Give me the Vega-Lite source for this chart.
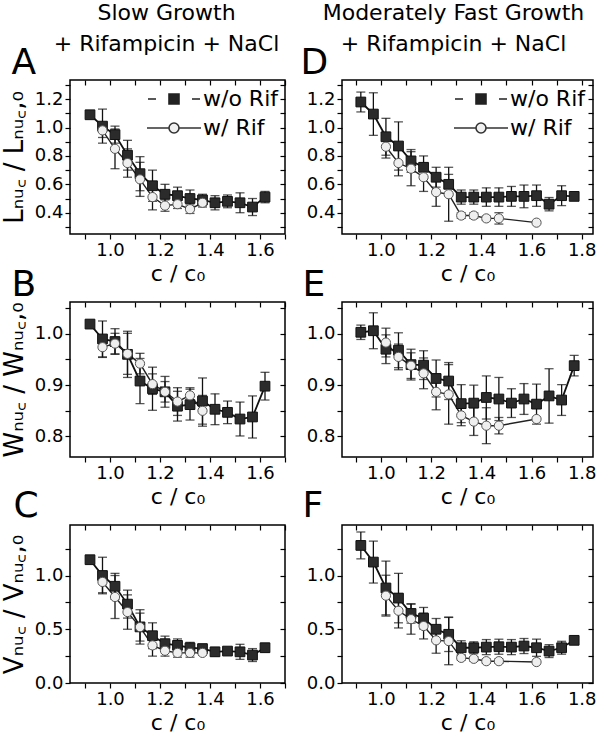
{
"$schema": "https://vega.github.io/schema/vega-lite/v6.json",
"padding": {"left": 0, "top": 1, "right": 2, "bottom": 0},
"background": "white",
"config": {
  "font": "DejaVu Sans",
  "view": {"stroke": "#000", "strokeWidth": 1.5},
  "axis": {"domain": false, "grid": false, "tickColor": "#000", "tickWidth": 1.2, "tickSize": 5, "labelFont": "DejaVu Sans", "labelFontSize": 18, "labelColor": "#000", "labelPadding": 2, "titleFont": "DejaVu Sans", "titleFontWeight": "normal", "titleColor": "#000", "labelFlush": false, "labelOverlap": false},
  "title": {"font": "DejaVu Sans", "color": "#000", "fontWeight": "normal"}
},
"datasets": {"d": [
{"p":"A","s":"w/o Rif","c":0.92,"v":1.09,"e":0},
{"p":"A","s":"w/o Rif","c":0.97,"v":1.01,"e":0.12},
{"p":"A","s":"w/o Rif","c":1.02,"v":0.95,"e":0.06},
{"p":"A","s":"w/o Rif","c":1.07,"v":0.805,"e":0.105},
{"p":"A","s":"w/o Rif","c":1.12,"v":0.675,"e":0.12},
{"p":"A","s":"w/o Rif","c":1.17,"v":0.59,"e":0.11},
{"p":"A","s":"w/o Rif","c":1.22,"v":0.53,"e":0.07},
{"p":"A","s":"w/o Rif","c":1.27,"v":0.52,"e":0.06},
{"p":"A","s":"w/o Rif","c":1.32,"v":0.5,"e":0.06},
{"p":"A","s":"w/o Rif","c":1.37,"v":0.49,"e":0.04},
{"p":"A","s":"w/o Rif","c":1.42,"v":0.47,"e":0.05},
{"p":"A","s":"w/o Rif","c":1.47,"v":0.48,"e":0.045},
{"p":"A","s":"w/o Rif","c":1.52,"v":0.47,"e":0.07},
{"p":"A","s":"w/o Rif","c":1.57,"v":0.44,"e":0.06},
{"p":"A","s":"w/o Rif","c":1.62,"v":0.51,"e":0.04},
{"p":"A","s":"w/ Rif","c":0.97,"v":0.98,"e":0.05},
{"p":"A","s":"w/ Rif","c":1.02,"v":0.85,"e":0.14},
{"p":"A","s":"w/ Rif","c":1.07,"v":0.75,"e":0.1},
{"p":"A","s":"w/ Rif","c":1.12,"v":0.635,"e":0.12},
{"p":"A","s":"w/ Rif","c":1.17,"v":0.51,"e":0.09},
{"p":"A","s":"w/ Rif","c":1.22,"v":0.45,"e":0.04},
{"p":"A","s":"w/ Rif","c":1.27,"v":0.46,"e":0.03},
{"p":"A","s":"w/ Rif","c":1.32,"v":0.425,"e":0.03},
{"p":"A","s":"w/ Rif","c":1.37,"v":0.47,"e":0.03},
{"p":"D","s":"w/o Rif","c":0.92,"v":1.18,"e":0.07},
{"p":"D","s":"w/o Rif","c":0.97,"v":1.095,"e":0.15},
{"p":"D","s":"w/o Rif","c":1.02,"v":0.935,"e":0.13},
{"p":"D","s":"w/o Rif","c":1.07,"v":0.87,"e":0.17},
{"p":"D","s":"w/o Rif","c":1.12,"v":0.765,"e":0.08},
{"p":"D","s":"w/o Rif","c":1.17,"v":0.72,"e":0.08},
{"p":"D","s":"w/o Rif","c":1.22,"v":0.65,"e":0.07},
{"p":"D","s":"w/o Rif","c":1.27,"v":0.6,"e":0.07},
{"p":"D","s":"w/o Rif","c":1.32,"v":0.51,"e":0.05},
{"p":"D","s":"w/o Rif","c":1.37,"v":0.51,"e":0.05},
{"p":"D","s":"w/o Rif","c":1.42,"v":0.51,"e":0.065},
{"p":"D","s":"w/o Rif","c":1.47,"v":0.51,"e":0.065},
{"p":"D","s":"w/o Rif","c":1.52,"v":0.515,"e":0.07},
{"p":"D","s":"w/o Rif","c":1.57,"v":0.515,"e":0.08},
{"p":"D","s":"w/o Rif","c":1.62,"v":0.52,"e":0.075},
{"p":"D","s":"w/o Rif","c":1.67,"v":0.46,"e":0.047},
{"p":"D","s":"w/o Rif","c":1.72,"v":0.52,"e":0.07},
{"p":"D","s":"w/o Rif","c":1.77,"v":0.515,"e":0},
{"p":"D","s":"w/ Rif","c":1.02,"v":0.865,"e":0.08},
{"p":"D","s":"w/ Rif","c":1.07,"v":0.75,"e":0.09},
{"p":"D","s":"w/ Rif","c":1.12,"v":0.71,"e":0.12},
{"p":"D","s":"w/ Rif","c":1.17,"v":0.65,"e":0.1},
{"p":"D","s":"w/ Rif","c":1.22,"v":0.545,"e":0.1},
{"p":"D","s":"w/ Rif","c":1.27,"v":0.53,"e":0.19},
{"p":"D","s":"w/ Rif","c":1.32,"v":0.38,"e":0.02},
{"p":"D","s":"w/ Rif","c":1.37,"v":0.38,"e":0.02},
{"p":"D","s":"w/ Rif","c":1.42,"v":0.36,"e":0.015},
{"p":"D","s":"w/ Rif","c":1.47,"v":0.36,"e":0.04},
{"p":"D","s":"w/ Rif","c":1.62,"v":0.33,"e":0},
{"p":"B","s":"w/o Rif","c":0.92,"v":1.019,"e":0},
{"p":"B","s":"w/o Rif","c":0.97,"v":0.99,"e":0.035},
{"p":"B","s":"w/o Rif","c":1.02,"v":0.985,"e":0.025},
{"p":"B","s":"w/o Rif","c":1.07,"v":0.96,"e":0.045},
{"p":"B","s":"w/o Rif","c":1.12,"v":0.908,"e":0.044},
{"p":"B","s":"w/o Rif","c":1.17,"v":0.893,"e":0.042},
{"p":"B","s":"w/o Rif","c":1.22,"v":0.887,"e":0.03},
{"p":"B","s":"w/o Rif","c":1.27,"v":0.859,"e":0.029},
{"p":"B","s":"w/o Rif","c":1.32,"v":0.862,"e":0.03},
{"p":"B","s":"w/o Rif","c":1.37,"v":0.869,"e":0.045},
{"p":"B","s":"w/o Rif","c":1.42,"v":0.853,"e":0.03},
{"p":"B","s":"w/o Rif","c":1.47,"v":0.847,"e":0.022},
{"p":"B","s":"w/o Rif","c":1.52,"v":0.834,"e":0.033},
{"p":"B","s":"w/o Rif","c":1.57,"v":0.838,"e":0.041},
{"p":"B","s":"w/o Rif","c":1.62,"v":0.898,"e":0.027},
{"p":"B","s":"w/ Rif","c":0.97,"v":0.974,"e":0.02},
{"p":"B","s":"w/ Rif","c":1.02,"v":0.981,"e":0.02},
{"p":"B","s":"w/ Rif","c":1.07,"v":0.961,"e":0.04},
{"p":"B","s":"w/ Rif","c":1.12,"v":0.942,"e":0.02},
{"p":"B","s":"w/ Rif","c":1.17,"v":0.902,"e":0.02},
{"p":"B","s":"w/ Rif","c":1.22,"v":0.887,"e":0.02},
{"p":"B","s":"w/ Rif","c":1.27,"v":0.868,"e":0.027},
{"p":"B","s":"w/ Rif","c":1.32,"v":0.88,"e":0.015},
{"p":"B","s":"w/ Rif","c":1.37,"v":0.85,"e":0.03},
{"p":"E","s":"w/o Rif","c":0.92,"v":1.003,"e":0.014},
{"p":"E","s":"w/o Rif","c":0.97,"v":1.006,"e":0.035},
{"p":"E","s":"w/o Rif","c":1.02,"v":0.97,"e":0.028},
{"p":"E","s":"w/o Rif","c":1.07,"v":0.968,"e":0.034},
{"p":"E","s":"w/o Rif","c":1.12,"v":0.94,"e":0.03},
{"p":"E","s":"w/o Rif","c":1.17,"v":0.939,"e":0.028},
{"p":"E","s":"w/o Rif","c":1.22,"v":0.913,"e":0.036},
{"p":"E","s":"w/o Rif","c":1.27,"v":0.908,"e":0.036},
{"p":"E","s":"w/o Rif","c":1.32,"v":0.864,"e":0.037},
{"p":"E","s":"w/o Rif","c":1.37,"v":0.865,"e":0.035},
{"p":"E","s":"w/o Rif","c":1.42,"v":0.876,"e":0.042},
{"p":"E","s":"w/o Rif","c":1.47,"v":0.873,"e":0.042},
{"p":"E","s":"w/o Rif","c":1.52,"v":0.865,"e":0.028},
{"p":"E","s":"w/o Rif","c":1.57,"v":0.873,"e":0.03},
{"p":"E","s":"w/o Rif","c":1.62,"v":0.863,"e":0.039},
{"p":"E","s":"w/o Rif","c":1.67,"v":0.879,"e":0.053},
{"p":"E","s":"w/o Rif","c":1.72,"v":0.871,"e":0.03},
{"p":"E","s":"w/o Rif","c":1.77,"v":0.938,"e":0.02},
{"p":"E","s":"w/ Rif","c":1.02,"v":0.983,"e":0.028},
{"p":"E","s":"w/ Rif","c":1.07,"v":0.955,"e":0.025},
{"p":"E","s":"w/ Rif","c":1.12,"v":0.938,"e":0.025},
{"p":"E","s":"w/ Rif","c":1.17,"v":0.923,"e":0.03},
{"p":"E","s":"w/ Rif","c":1.22,"v":0.887,"e":0.035},
{"p":"E","s":"w/ Rif","c":1.27,"v":0.882,"e":0.058},
{"p":"E","s":"w/ Rif","c":1.32,"v":0.841,"e":0.02},
{"p":"E","s":"w/ Rif","c":1.37,"v":0.829,"e":0.027},
{"p":"E","s":"w/ Rif","c":1.42,"v":0.821,"e":0.035},
{"p":"E","s":"w/ Rif","c":1.47,"v":0.821,"e":0.016},
{"p":"E","s":"w/ Rif","c":1.62,"v":0.834,"e":0},
{"p":"C","s":"w/o Rif","c":0.92,"v":1.147,"e":0},
{"p":"C","s":"w/o Rif","c":0.97,"v":1.0,"e":0.17},
{"p":"C","s":"w/o Rif","c":1.02,"v":0.9,"e":0.12},
{"p":"C","s":"w/o Rif","c":1.07,"v":0.734,"e":0.13},
{"p":"C","s":"w/o Rif","c":1.12,"v":0.522,"e":0.16},
{"p":"C","s":"w/o Rif","c":1.17,"v":0.44,"e":0.12},
{"p":"C","s":"w/o Rif","c":1.22,"v":0.366,"e":0.07},
{"p":"C","s":"w/o Rif","c":1.27,"v":0.35,"e":0.06},
{"p":"C","s":"w/o Rif","c":1.32,"v":0.328,"e":0.05},
{"p":"C","s":"w/o Rif","c":1.37,"v":0.32,"e":0.04},
{"p":"C","s":"w/o Rif","c":1.42,"v":0.29,"e":0.04},
{"p":"C","s":"w/o Rif","c":1.47,"v":0.297,"e":0.03},
{"p":"C","s":"w/o Rif","c":1.52,"v":0.29,"e":0.07},
{"p":"C","s":"w/o Rif","c":1.57,"v":0.26,"e":0.06},
{"p":"C","s":"w/o Rif","c":1.62,"v":0.328,"e":0.04},
{"p":"C","s":"w/ Rif","c":0.97,"v":0.94,"e":0.1},
{"p":"C","s":"w/ Rif","c":1.02,"v":0.8,"e":0.2},
{"p":"C","s":"w/ Rif","c":1.07,"v":0.66,"e":0.16},
{"p":"C","s":"w/ Rif","c":1.12,"v":0.52,"e":0.13},
{"p":"C","s":"w/ Rif","c":1.17,"v":0.35,"e":0.1},
{"p":"C","s":"w/ Rif","c":1.22,"v":0.3,"e":0.05},
{"p":"C","s":"w/ Rif","c":1.27,"v":0.28,"e":0.04},
{"p":"C","s":"w/ Rif","c":1.32,"v":0.28,"e":0.04},
{"p":"C","s":"w/ Rif","c":1.37,"v":0.28,"e":0.02},
{"p":"F","s":"w/o Rif","c":0.92,"v":1.28,"e":0.125},
{"p":"F","s":"w/o Rif","c":0.97,"v":1.125,"e":0.195},
{"p":"F","s":"w/o Rif","c":1.02,"v":0.884,"e":0.25},
{"p":"F","s":"w/o Rif","c":1.07,"v":0.79,"e":0.23},
{"p":"F","s":"w/o Rif","c":1.12,"v":0.647,"e":0.09},
{"p":"F","s":"w/o Rif","c":1.17,"v":0.603,"e":0.1},
{"p":"F","s":"w/o Rif","c":1.22,"v":0.5,"e":0.1},
{"p":"F","s":"w/o Rif","c":1.27,"v":0.453,"e":0.16},
{"p":"F","s":"w/o Rif","c":1.32,"v":0.328,"e":0.065},
{"p":"F","s":"w/o Rif","c":1.37,"v":0.328,"e":0.055},
{"p":"F","s":"w/o Rif","c":1.42,"v":0.334,"e":0.07},
{"p":"F","s":"w/o Rif","c":1.47,"v":0.3375,"e":0.07},
{"p":"F","s":"w/o Rif","c":1.52,"v":0.334,"e":0.07},
{"p":"F","s":"w/o Rif","c":1.57,"v":0.344,"e":0.07},
{"p":"F","s":"w/o Rif","c":1.62,"v":0.328,"e":0.08},
{"p":"F","s":"w/o Rif","c":1.67,"v":0.297,"e":0.06},
{"p":"F","s":"w/o Rif","c":1.72,"v":0.328,"e":0.06},
{"p":"F","s":"w/o Rif","c":1.77,"v":0.397,"e":0.02},
{"p":"F","s":"w/ Rif","c":1.02,"v":0.8125,"e":0.19},
{"p":"F","s":"w/ Rif","c":1.07,"v":0.672,"e":0.16},
{"p":"F","s":"w/ Rif","c":1.12,"v":0.594,"e":0.14},
{"p":"F","s":"w/ Rif","c":1.17,"v":0.53,"e":0.12},
{"p":"F","s":"w/ Rif","c":1.22,"v":0.397,"e":0.12},
{"p":"F","s":"w/ Rif","c":1.27,"v":0.39,"e":0.22},
{"p":"F","s":"w/ Rif","c":1.32,"v":0.234,"e":0.02},
{"p":"F","s":"w/ Rif","c":1.37,"v":0.225,"e":0.02},
{"p":"F","s":"w/ Rif","c":1.42,"v":0.203,"e":0.02},
{"p":"F","s":"w/ Rif","c":1.47,"v":0.203,"e":0.02},
{"p":"F","s":"w/ Rif","c":1.62,"v":0.195,"e":0}
]},
"bounds": "flush",
"columns": 2,
"spacing": {"row": 68, "column": 57},
"resolve": {"scale": {"shape": "independent", "fill": "independent", "stroke": "independent"}, "legend": {"shape": "independent", "fill": "independent", "stroke": "independent"}},
"concat": [
  {
   "width": 215, "height": 154,
   "title": {"text": ["Slow Growth", "+ Rifampicin + NaCl"], "fontSize": 22, "lineHeight": 31, "anchor": "middle", "frame": "group", "dx": -11, "offset": -12},
   "data": {"name": "d"},
   "transform": [{"filter": "datum.p == 'A'"}],
   "resolve": {"axis": {"x": "independent", "y": "independent"}},
   "layer": [
    {"transform": [{"filter": "datum.e > 0"}], "mark": {"type": "errorbar", "ticks": {"size": 9, "thickness": 1.3, "color": "#111"}, "rule": {"strokeWidth": 1.3, "color": "#111"}},
     "encoding": {"x": {"field": "c", "type": "quantitative", "scale": {"domain": [0.84, 1.70], "nice": false, "zero": false}, "axis": null},
                  "y": {"field": "v", "type": "quantitative", "scale": {"domain": [0.25, 1.335], "nice": false, "zero": false}, "axis": null},
                  "yError": {"field": "e"}}},
    {"transform": [{"filter": "datum.s == 'w/o Rif'"}], "mark": {"type": "line", "color": "#111", "strokeWidth": 1.8},
     "encoding": {"x": {"field": "c", "type": "quantitative", "axis": {"orient": "top", "labels": false, "tickSize": -5, "title": "A", "titleFontSize": 36, "titleX": -59, "titleY": -7, "titleAlign": "left", "titleBaseline": "alphabetic", "values": [0.9,1.0,1.1,1.2,1.3,1.4,1.5,1.6,1.7]}},
                  "y": {"field": "v", "type": "quantitative", "axis": {"orient": "right", "labels": false, "tickSize": -5, "title": null, "values": [0.3,0.4,0.5,0.6,0.7,0.8,0.9,1.0,1.1,1.2,1.3]}}}},
    {"transform": [{"filter": "datum.s == 'w/ Rif'"}], "mark": {"type": "line", "color": "#222", "strokeWidth": 1.4},
     "encoding": {"x": {"field": "c", "type": "quantitative", "axis": null}, "y": {"field": "v", "type": "quantitative", "axis": null}}},
    {"transform": [{"filter": "datum.s == 'w/o Rif'"}], "mark": {"type": "square", "size": 95, "fill": "#2b2b2b", "stroke": "#111", "strokeWidth": 1, "opacity": 1},
     "encoding": {"x": {"field": "c", "type": "quantitative", "axis": {"orient": "bottom", "title": "c / c₀", "titleFontSize": 22, "titlePadding": 4, "values": [0.9,1.0,1.1,1.2,1.3,1.4,1.5,1.6,1.7], "labelExpr": "abs(datum.value*5 - round(datum.value*5)) < 0.001 ? format(datum.value, '.1f') : ''"}},
                  "y": {"field": "v", "type": "quantitative", "axis": {"orient": "left", "title": "Lₙᵤ꜀ / Lₙᵤ꜀,₀", "titleFontSize": 26, "titlePadding": 7, "values": [0.3,0.4,0.5,0.6,0.7,0.8,0.9,1.0,1.1,1.2,1.3], "labelExpr": "abs(datum.value*5 - round(datum.value*5)) < 0.001 ? format(datum.value, '.1f') : ''"}}}},
    {"transform": [{"filter": "datum.s == 'w/ Rif'"}], "mark": {"type": "point", "shape": "circle", "size": 85, "filled": true, "fill": "#efefef", "stroke": "#555", "strokeWidth": 1, "opacity": 1},
     "encoding": {"x": {"field": "c", "type": "quantitative", "axis": null}, "y": {"field": "v", "type": "quantitative", "axis": null}}},
    {"transform": [{"filter": "false"}], "mark": {"type": "point", "filled": true, "strokeWidth": 1.6, "opacity": 1},
     "encoding": {
      "shape": {"field": "s", "type": "nominal", "scale": {"domain": ["w/o Rif", "w/ Rif"], "range": ["M-2.6,0H-1.8M-0.5,-0.5H0.5V0.5H-0.5ZM1.8,0H2.6", "M-2.7,0H-0.5M0.5,0H2.7M0.5,0A0.5,0.5,0,1,1,-0.5,0A0.5,0.5,0,1,1,0.5,0Z"]},
        "legend": {"orient": "none", "legendX": 93, "legendY": 8, "title": null, "labelFontSize": 22, "labelFont": "DejaVu Sans", "labelColor": "#000", "symbolSize": 400, "symbolStrokeWidth": 1.6, "labelOffset": 18, "rowPadding": 7, "padding": 0}},
      "fill": {"field": "s", "type": "nominal", "scale": {"domain": ["w/o Rif", "w/ Rif"], "range": ["#222", "#f0f0f0"]},
        "legend": {"orient": "none", "legendX": 93, "legendY": 8, "title": null, "labelFontSize": 22, "labelFont": "DejaVu Sans", "labelColor": "#000", "symbolSize": 400, "symbolStrokeWidth": 1.6, "labelOffset": 18, "rowPadding": 7, "padding": 0}},
      "stroke": {"field": "s", "type": "nominal", "scale": {"domain": ["w/o Rif", "w/ Rif"], "range": ["#222", "#333"]},
        "legend": {"orient": "none", "legendX": 93, "legendY": 8, "title": null, "labelFontSize": 22, "labelFont": "DejaVu Sans", "labelColor": "#000", "symbolSize": 400, "symbolStrokeWidth": 1.6, "labelOffset": 18, "rowPadding": 7, "padding": 0}}
     }}
   ]
  },
  {
   "width": 251, "height": 154,
   "title": {"text": ["Moderately Fast Growth", "+ Rifampicin + NaCl"], "fontSize": 22, "lineHeight": 31, "anchor": "middle", "frame": "group", "dx": -14, "offset": -12},
   "data": {"name": "d"},
   "transform": [{"filter": "datum.p == 'D'"}],
   "resolve": {"axis": {"x": "independent", "y": "independent"}},
   "layer": [
    {"transform": [{"filter": "datum.e > 0"}], "mark": {"type": "errorbar", "ticks": {"size": 9, "thickness": 1.3, "color": "#111"}, "rule": {"strokeWidth": 1.3, "color": "#111"}},
     "encoding": {"x": {"field": "c", "type": "quantitative", "scale": {"domain": [0.845, 1.845], "nice": false, "zero": false}, "axis": null},
                  "y": {"field": "v", "type": "quantitative", "scale": {"domain": [0.25, 1.335], "nice": false, "zero": false}, "axis": null},
                  "yError": {"field": "e"}}},
    {"transform": [{"filter": "datum.s == 'w/o Rif'"}], "mark": {"type": "line", "color": "#111", "strokeWidth": 1.8},
     "encoding": {"x": {"field": "c", "type": "quantitative", "axis": {"orient": "top", "labels": false, "tickSize": -5, "title": "D", "titleFontSize": 36, "titleX": -42, "titleY": -7, "titleAlign": "left", "titleBaseline": "alphabetic", "values": [0.9,1.0,1.1,1.2,1.3,1.4,1.5,1.6,1.7,1.8]}},
                  "y": {"field": "v", "type": "quantitative", "axis": {"orient": "right", "labels": false, "tickSize": -5, "title": null, "values": [0.3,0.4,0.5,0.6,0.7,0.8,0.9,1.0,1.1,1.2,1.3]}}}},
    {"transform": [{"filter": "datum.s == 'w/ Rif'"}], "mark": {"type": "line", "color": "#222", "strokeWidth": 1.4},
     "encoding": {"x": {"field": "c", "type": "quantitative", "axis": null}, "y": {"field": "v", "type": "quantitative", "axis": null}}},
    {"transform": [{"filter": "datum.s == 'w/o Rif'"}], "mark": {"type": "square", "size": 95, "fill": "#2b2b2b", "stroke": "#111", "strokeWidth": 1, "opacity": 1},
     "encoding": {"x": {"field": "c", "type": "quantitative", "axis": {"orient": "bottom", "title": "c / c₀", "titleFontSize": 22, "titlePadding": 4, "values": [0.9,1.0,1.1,1.2,1.3,1.4,1.5,1.6,1.7,1.8], "labelExpr": "abs(datum.value*5 - round(datum.value*5)) < 0.001 ? format(datum.value, '.1f') : ''"}},
                  "y": {"field": "v", "type": "quantitative", "axis": {"orient": "left", "title": null, "values": [0.3,0.4,0.5,0.6,0.7,0.8,0.9,1.0,1.1,1.2,1.3], "labelExpr": "abs(datum.value*5 - round(datum.value*5)) < 0.001 ? format(datum.value, '.1f') : ''"}}}},
    {"transform": [{"filter": "datum.s == 'w/ Rif'"}], "mark": {"type": "point", "shape": "circle", "size": 85, "filled": true, "fill": "#efefef", "stroke": "#555", "strokeWidth": 1, "opacity": 1},
     "encoding": {"x": {"field": "c", "type": "quantitative", "axis": null}, "y": {"field": "v", "type": "quantitative", "axis": null}}},
    {"transform": [{"filter": "false"}], "mark": {"type": "point", "filled": true, "strokeWidth": 1.6, "opacity": 1},
     "encoding": {
      "shape": {"field": "s", "type": "nominal", "scale": {"domain": ["w/o Rif", "w/ Rif"], "range": ["M-2.6,0H-1.8M-0.5,-0.5H0.5V0.5H-0.5ZM1.8,0H2.6", "M-2.7,0H-0.5M0.5,0H2.7M0.5,0A0.5,0.5,0,1,1,-0.5,0A0.5,0.5,0,1,1,0.5,0Z"]},
        "legend": {"orient": "none", "legendX": 128, "legendY": 8, "title": null, "labelFontSize": 22, "labelFont": "DejaVu Sans", "labelColor": "#000", "symbolSize": 400, "symbolStrokeWidth": 1.6, "labelOffset": 18, "rowPadding": 7, "padding": 0}},
      "fill": {"field": "s", "type": "nominal", "scale": {"domain": ["w/o Rif", "w/ Rif"], "range": ["#222", "#f0f0f0"]},
        "legend": {"orient": "none", "legendX": 128, "legendY": 8, "title": null, "labelFontSize": 22, "labelFont": "DejaVu Sans", "labelColor": "#000", "symbolSize": 400, "symbolStrokeWidth": 1.6, "labelOffset": 18, "rowPadding": 7, "padding": 0}},
      "stroke": {"field": "s", "type": "nominal", "scale": {"domain": ["w/o Rif", "w/ Rif"], "range": ["#222", "#333"]},
        "legend": {"orient": "none", "legendX": 128, "legendY": 8, "title": null, "labelFontSize": 22, "labelFont": "DejaVu Sans", "labelColor": "#000", "symbolSize": 400, "symbolStrokeWidth": 1.6, "labelOffset": 18, "rowPadding": 7, "padding": 0}}
     }}
   ]
  },
  {
   "width": 215, "height": 155,
   "data": {"name": "d"},
   "transform": [{"filter": "datum.p == 'B'"}],
   "resolve": {"axis": {"x": "independent", "y": "independent"}},
   "layer": [
    {"transform": [{"filter": "datum.e > 0"}], "mark": {"type": "errorbar", "ticks": {"size": 9, "thickness": 1.3, "color": "#111"}, "rule": {"strokeWidth": 1.3, "color": "#111"}},
     "encoding": {"x": {"field": "c", "type": "quantitative", "scale": {"domain": [0.84, 1.70], "nice": false, "zero": false}, "axis": null},
                  "y": {"field": "v", "type": "quantitative", "scale": {"domain": [0.76, 1.062], "nice": false, "zero": false}, "axis": null},
                  "yError": {"field": "e"}}},
    {"transform": [{"filter": "datum.s == 'w/o Rif'"}], "mark": {"type": "line", "color": "#111", "strokeWidth": 1.8},
     "encoding": {"x": {"field": "c", "type": "quantitative", "axis": {"orient": "top", "labels": false, "tickSize": -5, "title": "B", "titleFontSize": 36, "titleX": -59, "titleY": -7, "titleAlign": "left", "titleBaseline": "alphabetic", "values": [0.9,1.0,1.1,1.2,1.3,1.4,1.5,1.6,1.7]}},
                  "y": {"field": "v", "type": "quantitative", "axis": {"orient": "right", "labels": false, "tickSize": -5, "title": null, "values": [0.8,0.85,0.9,0.95,1.0,1.05]}}}},
    {"transform": [{"filter": "datum.s == 'w/ Rif'"}], "mark": {"type": "line", "color": "#222", "strokeWidth": 1.4},
     "encoding": {"x": {"field": "c", "type": "quantitative", "axis": null}, "y": {"field": "v", "type": "quantitative", "axis": null}}},
    {"transform": [{"filter": "datum.s == 'w/o Rif'"}], "mark": {"type": "square", "size": 95, "fill": "#2b2b2b", "stroke": "#111", "strokeWidth": 1, "opacity": 1},
     "encoding": {"x": {"field": "c", "type": "quantitative", "axis": {"orient": "bottom", "title": "c / c₀", "titleFontSize": 22, "titlePadding": 4, "values": [0.9,1.0,1.1,1.2,1.3,1.4,1.5,1.6,1.7], "labelExpr": "abs(datum.value*5 - round(datum.value*5)) < 0.001 ? format(datum.value, '.1f') : ''"}},
                  "y": {"field": "v", "type": "quantitative", "axis": {"orient": "left", "title": "Wₙᵤ꜀ / Wₙᵤ꜀,₀", "titleFontSize": 26, "titlePadding": 7, "values": [0.8,0.85,0.9,0.95,1.0,1.05], "labelExpr": "abs(datum.value*10 - round(datum.value*10)) < 0.001 ? format(datum.value, '.1f') : ''"}}}},
    {"transform": [{"filter": "datum.s == 'w/ Rif'"}], "mark": {"type": "point", "shape": "circle", "size": 85, "filled": true, "fill": "#efefef", "stroke": "#555", "strokeWidth": 1, "opacity": 1},
     "encoding": {"x": {"field": "c", "type": "quantitative", "axis": null}, "y": {"field": "v", "type": "quantitative", "axis": null}}}
   ]
  },
  {
   "width": 251, "height": 155,
   "data": {"name": "d"},
   "transform": [{"filter": "datum.p == 'E'"}],
   "resolve": {"axis": {"x": "independent", "y": "independent"}},
   "layer": [
    {"transform": [{"filter": "datum.e > 0"}], "mark": {"type": "errorbar", "ticks": {"size": 9, "thickness": 1.3, "color": "#111"}, "rule": {"strokeWidth": 1.3, "color": "#111"}},
     "encoding": {"x": {"field": "c", "type": "quantitative", "scale": {"domain": [0.845, 1.845], "nice": false, "zero": false}, "axis": null},
                  "y": {"field": "v", "type": "quantitative", "scale": {"domain": [0.76, 1.062], "nice": false, "zero": false}, "axis": null},
                  "yError": {"field": "e"}}},
    {"transform": [{"filter": "datum.s == 'w/o Rif'"}], "mark": {"type": "line", "color": "#111", "strokeWidth": 1.8},
     "encoding": {"x": {"field": "c", "type": "quantitative", "axis": {"orient": "top", "labels": false, "tickSize": -5, "title": "E", "titleFontSize": 36, "titleX": -40, "titleY": -7, "titleAlign": "left", "titleBaseline": "alphabetic", "values": [0.9,1.0,1.1,1.2,1.3,1.4,1.5,1.6,1.7,1.8]}},
                  "y": {"field": "v", "type": "quantitative", "axis": {"orient": "right", "labels": false, "tickSize": -5, "title": null, "values": [0.8,0.85,0.9,0.95,1.0,1.05]}}}},
    {"transform": [{"filter": "datum.s == 'w/ Rif'"}], "mark": {"type": "line", "color": "#222", "strokeWidth": 1.4},
     "encoding": {"x": {"field": "c", "type": "quantitative", "axis": null}, "y": {"field": "v", "type": "quantitative", "axis": null}}},
    {"transform": [{"filter": "datum.s == 'w/o Rif'"}], "mark": {"type": "square", "size": 95, "fill": "#2b2b2b", "stroke": "#111", "strokeWidth": 1, "opacity": 1},
     "encoding": {"x": {"field": "c", "type": "quantitative", "axis": {"orient": "bottom", "title": "c / c₀", "titleFontSize": 22, "titlePadding": 4, "values": [0.9,1.0,1.1,1.2,1.3,1.4,1.5,1.6,1.7,1.8], "labelExpr": "abs(datum.value*5 - round(datum.value*5)) < 0.001 ? format(datum.value, '.1f') : ''"}},
                  "y": {"field": "v", "type": "quantitative", "axis": {"orient": "left", "title": null, "values": [0.8,0.85,0.9,0.95,1.0,1.05], "labelExpr": "abs(datum.value*10 - round(datum.value*10)) < 0.001 ? format(datum.value, '.1f') : ''"}}}},
    {"transform": [{"filter": "datum.s == 'w/ Rif'"}], "mark": {"type": "point", "shape": "circle", "size": 85, "filled": true, "fill": "#efefef", "stroke": "#555", "strokeWidth": 1, "opacity": 1},
     "encoding": {"x": {"field": "c", "type": "quantitative", "axis": null}, "y": {"field": "v", "type": "quantitative", "axis": null}}}
   ]
  },
  {
   "width": 215, "height": 158,
   "data": {"name": "d"},
   "transform": [{"filter": "datum.p == 'C'"}],
   "resolve": {"axis": {"x": "independent", "y": "independent"}},
   "layer": [
    {"transform": [{"filter": "datum.e > 0"}], "mark": {"type": "errorbar", "ticks": {"size": 9, "thickness": 1.3, "color": "#111"}, "rule": {"strokeWidth": 1.3, "color": "#111"}},
     "encoding": {"x": {"field": "c", "type": "quantitative", "scale": {"domain": [0.84, 1.70], "nice": false, "zero": false}, "axis": null},
                  "y": {"field": "v", "type": "quantitative", "scale": {"domain": [0, 1.47], "nice": false, "zero": false}, "axis": null},
                  "yError": {"field": "e"}}},
    {"transform": [{"filter": "datum.s == 'w/o Rif'"}], "mark": {"type": "line", "color": "#111", "strokeWidth": 1.8},
     "encoding": {"x": {"field": "c", "type": "quantitative", "axis": {"orient": "top", "labels": false, "tickSize": -5, "title": "C", "titleFontSize": 36, "titleX": -57, "titleY": -9, "titleAlign": "left", "titleBaseline": "alphabetic", "values": [0.9,1.0,1.1,1.2,1.3,1.4,1.5,1.6,1.7]}},
                  "y": {"field": "v", "type": "quantitative", "axis": {"orient": "right", "labels": false, "tickSize": -5, "title": null, "values": [0,0.25,0.5,0.75,1.0,1.25]}}}},
    {"transform": [{"filter": "datum.s == 'w/ Rif'"}], "mark": {"type": "line", "color": "#222", "strokeWidth": 1.4},
     "encoding": {"x": {"field": "c", "type": "quantitative", "axis": null}, "y": {"field": "v", "type": "quantitative", "axis": null}}},
    {"transform": [{"filter": "datum.s == 'w/o Rif'"}], "mark": {"type": "square", "size": 95, "fill": "#2b2b2b", "stroke": "#111", "strokeWidth": 1, "opacity": 1},
     "encoding": {"x": {"field": "c", "type": "quantitative", "axis": {"orient": "bottom", "title": "c / c₀", "titleFontSize": 22, "titlePadding": 4, "values": [0.9,1.0,1.1,1.2,1.3,1.4,1.5,1.6,1.7], "labelExpr": "abs(datum.value*5 - round(datum.value*5)) < 0.001 ? format(datum.value, '.1f') : ''"}},
                  "y": {"field": "v", "type": "quantitative", "axis": {"orient": "left", "title": "Vₙᵤ꜀ / Vₙᵤ꜀,₀", "titleFontSize": 26, "titlePadding": 7, "values": [0,0.25,0.5,0.75,1.0,1.25], "labelExpr": "abs(datum.value*2 - round(datum.value*2)) < 0.001 ? format(datum.value, '.1f') : ''"}}}},
    {"transform": [{"filter": "datum.s == 'w/ Rif'"}], "mark": {"type": "point", "shape": "circle", "size": 85, "filled": true, "fill": "#efefef", "stroke": "#555", "strokeWidth": 1, "opacity": 1},
     "encoding": {"x": {"field": "c", "type": "quantitative", "axis": null}, "y": {"field": "v", "type": "quantitative", "axis": null}}}
   ]
  },
  {
   "width": 251, "height": 158,
   "data": {"name": "d"},
   "transform": [{"filter": "datum.p == 'F'"}],
   "resolve": {"axis": {"x": "independent", "y": "independent"}},
   "layer": [
    {"transform": [{"filter": "datum.e > 0"}], "mark": {"type": "errorbar", "ticks": {"size": 9, "thickness": 1.3, "color": "#111"}, "rule": {"strokeWidth": 1.3, "color": "#111"}},
     "encoding": {"x": {"field": "c", "type": "quantitative", "scale": {"domain": [0.845, 1.845], "nice": false, "zero": false}, "axis": null},
                  "y": {"field": "v", "type": "quantitative", "scale": {"domain": [0, 1.47], "nice": false, "zero": false}, "axis": null},
                  "yError": {"field": "e"}}},
    {"transform": [{"filter": "datum.s == 'w/o Rif'"}], "mark": {"type": "line", "color": "#111", "strokeWidth": 1.8},
     "encoding": {"x": {"field": "c", "type": "quantitative", "axis": {"orient": "top", "labels": false, "tickSize": -5, "title": "F", "titleFontSize": 36, "titleX": -40, "titleY": -9, "titleAlign": "left", "titleBaseline": "alphabetic", "values": [0.9,1.0,1.1,1.2,1.3,1.4,1.5,1.6,1.7,1.8]}},
                  "y": {"field": "v", "type": "quantitative", "axis": {"orient": "right", "labels": false, "tickSize": -5, "title": null, "values": [0,0.25,0.5,0.75,1.0,1.25]}}}},
    {"transform": [{"filter": "datum.s == 'w/ Rif'"}], "mark": {"type": "line", "color": "#222", "strokeWidth": 1.4},
     "encoding": {"x": {"field": "c", "type": "quantitative", "axis": null}, "y": {"field": "v", "type": "quantitative", "axis": null}}},
    {"transform": [{"filter": "datum.s == 'w/o Rif'"}], "mark": {"type": "square", "size": 95, "fill": "#2b2b2b", "stroke": "#111", "strokeWidth": 1, "opacity": 1},
     "encoding": {"x": {"field": "c", "type": "quantitative", "axis": {"orient": "bottom", "title": "c / c₀", "titleFontSize": 22, "titlePadding": 4, "values": [0.9,1.0,1.1,1.2,1.3,1.4,1.5,1.6,1.7,1.8], "labelExpr": "abs(datum.value*5 - round(datum.value*5)) < 0.001 ? format(datum.value, '.1f') : ''"}},
                  "y": {"field": "v", "type": "quantitative", "axis": {"orient": "left", "title": null, "values": [0,0.25,0.5,0.75,1.0,1.25], "labelExpr": "abs(datum.value*2 - round(datum.value*2)) < 0.001 ? format(datum.value, '.1f') : ''"}}}},
    {"transform": [{"filter": "datum.s == 'w/ Rif'"}], "mark": {"type": "point", "shape": "circle", "size": 85, "filled": true, "fill": "#efefef", "stroke": "#555", "strokeWidth": 1, "opacity": 1},
     "encoding": {"x": {"field": "c", "type": "quantitative", "axis": null}, "y": {"field": "v", "type": "quantitative", "axis": null}}}
   ]
  }
]
}
